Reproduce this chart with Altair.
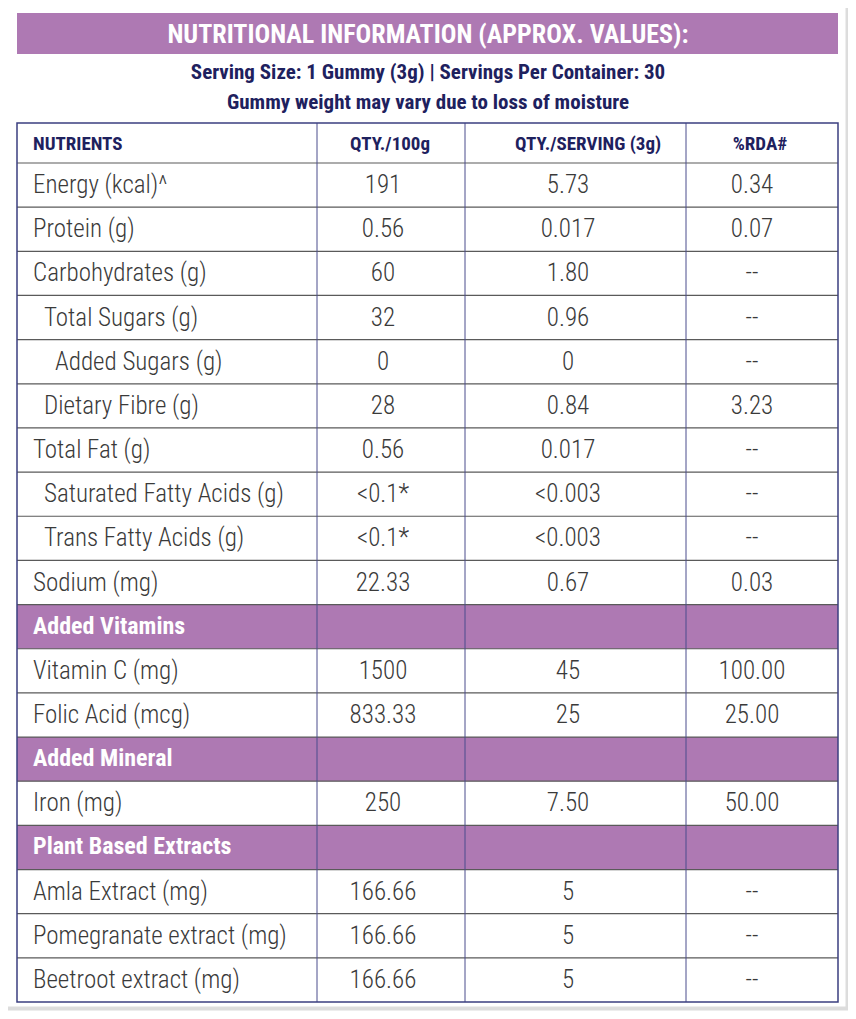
import altair as alt
import pandas as pd

# ---------------- data ----------------
title = "NUTRITIONAL INFORMATION (APPROX. VALUES):"
subtitle = [
    "Serving Size: 1 Gummy (3g) | Servings Per Container: 30",
    "Gummy weight may vary due to loss of moisture",
]
headers = ["NUTRIENTS", "QTY./100g", "QTY./SERVING (3g)", "%RDA#"]

nutrients = [
    "Energy (kcal)^", "Protein (g)", "Carbohydrates (g)", "Total Sugars (g)",
    "Added Sugars (g)", "Dietary Fibre (g)", "Total Fat (g)",
    "Saturated Fatty Acids (g)", "Trans Fatty Acids (g)", "Sodium (mg)",
    "Added Vitamins", "Vitamin C (mg)", "Folic Acid (mcg)",
    "Added Mineral", "Iron (mg)",
    "Plant Based Extracts", "Amla Extract (mg)", "Pomegranate extract (mg)",
    "Beetroot extract (mg)",
]
qty_100g = ["191", "0.56", "60", "32", "0", "28", "0.56", "<0.1*", "<0.1*", "22.33",
            "", "1500", "833.33", "", "250", "", "166.66", "166.66", "166.66"]
qty_serving = ["5.73", "0.017", "1.80", "0.96", "0", "0.84", "0.017", "<0.003", "<0.003", "0.67",
               "", "45", "25", "", "7.50", "", "5", "5", "5"]
rda = ["0.34", "0.07", "--", "--", "--", "3.23", "--", "--", "--", "0.03",
       "", "100.00", "25.00", "", "50.00", "", "--", "--", "--"]
indent = [0, 0, 0, 1, 2, 1, 0, 1, 1, 0, 0, 0, 0, 0, 0, 0, 0, 0, 0]
is_section = [False] * 10 + [True, False, False, True, False, True, False, False, False]

# ---------------- layout ----------------
PURPLE = "#AE79B3"
NAVY = "#1E215E"
BODY = "#3A3A3A"
FONT = "Roboto Condensed, Liberation Sans Narrow, DejaVu Sans Condensed, sans-serif"

col_edges = [17, 317, 465, 686, 838]
value_x = [383, 568, 752]
header_x = [33, 390, 588, 760]
TITLE_TOP, TITLE_BOT = 13, 54
HEAD_TOP, BODY_TOP, BODY_BOT = 123, 163, 1002
n = len(nutrients)
row_h = (BODY_BOT - BODY_TOP) / n

W, H = 840, 1003
XS = alt.Scale(domain=[8, 8 + W], nice=False, zero=False)
YS = alt.Scale(domain=[8, 8 + H], nice=False, zero=False, reverse=True)


def X(f):
    return alt.X(f"{f}:Q", scale=XS, axis=None)


def X2(f):
    return alt.X2(f"{f}:Q")


def Y(f):
    return alt.Y(f"{f}:Q", scale=YS, axis=None)


def Y2(f):
    return alt.Y2(f"{f}:Q")


rows = pd.DataFrame({
    "name": nutrients,
    "v1": qty_100g,
    "v2": qty_serving,
    "v3": rda,
    "indent": indent,
    "section": is_section,
})
rows["top"] = [BODY_TOP + i * row_h for i in range(n)]
rows["bot"] = rows["top"] + row_h
rows["mid"] = rows["top"] + row_h / 2
rows["lx"] = 33 + rows["indent"] * 11
rows["x0"] = col_edges[0]
rows["x1"] = col_edges[-1]

# card & shadow
card = pd.DataFrame({
    "x": [8, 7, 6], "x2": [850, 849, 846],
    "y": [8, 7, 6], "y2": [1012, 1010, 1007],
    "k": ["s1", "s2", "card"],
})
shadow = alt.Chart(card[card.k != "card"]).mark_rect(color="#000000", opacity=0.07).encode(
    x=X("x"), x2=X2("x2"), y=Y("y"), y2=Y2("y2"))
card_l = alt.Chart(card[card.k == "card"]).mark_rect(
    fill="white", stroke="#dddddd", strokeWidth=1).encode(
    x=X("x"), x2=X2("x2"), y=Y("y"), y2=Y2("y2"))

# title band
band = pd.DataFrame({"x": [col_edges[0]], "x2": [col_edges[-1]], "y": [TITLE_TOP], "y2": [TITLE_BOT],
                     "t": [title], "cx": [428], "cy": [(TITLE_TOP + TITLE_BOT) / 2 + 1]})
band_rect = alt.Chart(band).mark_rect(color=PURPLE).encode(
    x=X("x"), x2=X2("x2"), y=Y("y"), y2=Y2("y2"))
band_text = alt.Chart(band).mark_text(
    font=FONT, fontSize=26, fontWeight="bold", color="white", align="center", baseline="middle"
).encode(x=X("cx"), y=Y("cy"), text="t:N")

# subtitle
sub = pd.DataFrame({"t": subtitle, "cx": [428, 428], "cy": [73, 103]})
sub_text = alt.Chart(sub).mark_text(
    font=FONT, fontSize=21, fontWeight="bold", color=NAVY, align="center", baseline="middle"
).encode(x=X("cx"), y=Y("cy"), text="t:N")

# header row
hdr = pd.DataFrame({"t": headers, "cx": header_x, "cy": [144] * 4})
hdr_left = alt.Chart(hdr.iloc[:1]).mark_text(
    font=FONT, fontSize=19, fontWeight="bold", color=NAVY, align="left", baseline="middle"
).encode(x=X("cx"), y=Y("cy"), text="t:N")
hdr_rest = alt.Chart(hdr.iloc[1:]).mark_text(
    font=FONT, fontSize=19, fontWeight="bold", color=NAVY, align="center", baseline="middle"
).encode(x=X("cx"), y=Y("cy"), text="t:N")

# section bands
sec_rect = alt.Chart(rows[rows.section]).mark_rect(color=PURPLE).encode(
    x=X("x0"), x2=X2("x1"), y=Y("top"), y2=Y2("bot"))

# horizontal lines
hl = pd.DataFrame({"y": [BODY_TOP + i * row_h for i in range(n)]})
hl["x0"] = col_edges[0]
hl["x1"] = col_edges[-1]
hlines = alt.Chart(hl).mark_rule(color="#5a5a5a", strokeWidth=1.2).encode(
    x=X("x0"), x2=X2("x1"), y=Y("y"))

# vertical lines
vl = pd.DataFrame({"x": col_edges[1:-1], "y0": HEAD_TOP, "y1": BODY_BOT})
vlines = alt.Chart(vl).mark_rule(color="#4a4d8c", strokeWidth=1).encode(
    x=X("x"), y=Y("y0"), y2=Y2("y1"))

# outer border of table
border_df = pd.DataFrame({"x": [col_edges[0]], "x2": [col_edges[-1]], "y": [HEAD_TOP], "y2": [BODY_BOT]})
border = alt.Chart(border_df).mark_rect(fillOpacity=0, stroke="#3b3f80", strokeWidth=1.5).encode(
    x=X("x"), x2=X2("x2"), y=Y("y"), y2=Y2("y2"))

# row labels
lab_norm = alt.Chart(rows[~rows.section]).mark_text(
    font=FONT, fontSize=25, fontWeight=300, color=BODY, align="left", baseline="middle"
).encode(x=X("lx"), y=Y("mid"), text="name:N")
lab_sec = alt.Chart(rows[rows.section]).mark_text(
    font=FONT, fontSize=24, fontWeight="bold", color="white", align="left", baseline="middle"
).encode(x=X("lx"), y=Y("mid"), text="name:N")

# values
vals = []
for j, col in enumerate(["v1", "v2", "v3"]):
    for i in range(n):
        t = rows[col][i]
        if t:
            vals.append({"t": t, "x": value_x[j], "y": rows["mid"][i]})
vals = pd.DataFrame(vals)
val_text = alt.Chart(vals).mark_text(
    font=FONT, fontSize=25, fontWeight=300, color=BODY, align="center", baseline="middle"
).encode(x=X("x"), y=Y("y"), text="t:N")

chart = alt.layer(
    shadow, card_l, band_rect, band_text, sub_text,
    sec_rect, hlines, vlines, border,
    hdr_left, hdr_rest, lab_norm, lab_sec, val_text,
).properties(
    width=W, height=H, padding=0, background="white",
    autosize=alt.AutoSizeParams(type="none"),
).configure_view(stroke=None)

chart.save("out.html", embed_options={"renderer": "svg", "actions": False})
